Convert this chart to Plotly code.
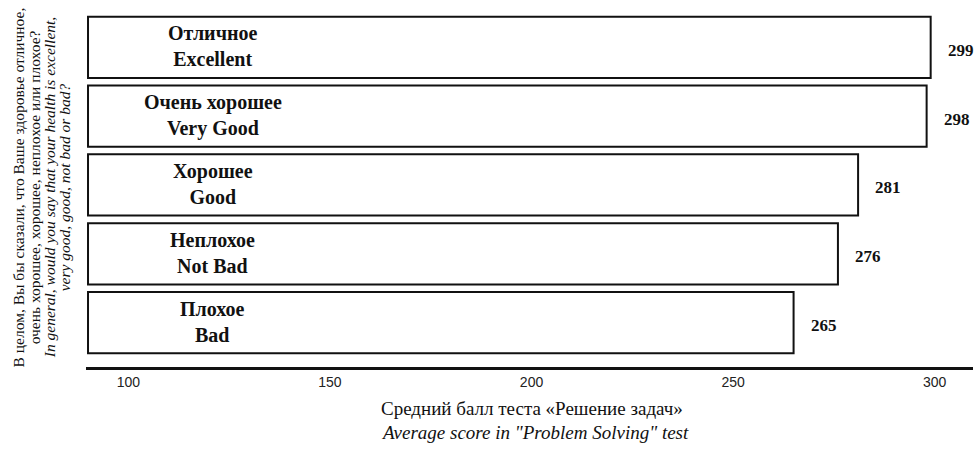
import plotly.graph_objects as go

# Data (top-to-bottom order as shown)
categories_ru = ["Отличное", "Очень хорошее", "Хорошее", "Неплохое", "Плохое"]
categories_en = ["Excellent", "Very Good", "Good", "Not Bad", "Bad"]
scores = [299, 298, 281, 276, 265]
tick_values = [100, 150, 200, 250, 300]
tick_labels = ["100", "150", "200", "250", "300"]

x_title_ru = "Средний балл теста «Решение задач»"
x_title_en = 'Average score in "Problem Solving" test'
y_title_lines = [
    ("В целом, Вы бы сказали, что Ваше здоровье отличное,", False),
    ("очень хорошее, хорошее, неплохое или плохое?", False),
    ("In general, would you say that your health is excellent,", True),
    ("very good, good, not bad or bad?", True),
]

# Styling / axis constants
X_MIN, X_MAX = 89.5, 309.5
BAR_BASE = 90
SERIF = "Liberation Serif"
INK = "#111111"

cats = [f"{r} / {e}" for r, e in zip(categories_ru, categories_en)]

fig = go.Figure()
fig.add_trace(go.Bar(
    y=cats,
    x=[s - BAR_BASE for s in scores],
    base=BAR_BASE,
    orientation="h",
    marker=dict(color="white", line=dict(color=INK, width=2)),
    hoverinfo="skip",
    showlegend=False,
))

annotations = []
# category labels inside bars
for c, r, e in zip(cats, categories_ru, categories_en):
    annotations.append(dict(
        xref="paper", yref="y", x=0.143, y=c,
        text=f"<b>{r}<br>{e}</b>", showarrow=False,
        font=dict(family=SERIF, size=20, color=INK),
        xanchor="center", yanchor="middle", yshift=1,
    ))
# value labels
for c, s in zip(cats, scores):
    annotations.append(dict(
        xref="x", yref="y", x=s, y=c,
        text=f"<b>{s}</b>", showarrow=False,
        font=dict(family=SERIF, size=17, color=INK),
        xanchor="left", yanchor="middle", xshift=15, yshift=-3,
    ))
# y-axis title (rotated), one annotation per line
y_title_x = [-0.0764, -0.0584, -0.0416, -0.0247]
for (txt, ital), xp in zip(y_title_lines, y_title_x):
    annotations.append(dict(
        xref="paper", yref="paper", x=xp, y=0.508,
        text=f"<i>{txt}</i>" if ital else txt,
        showarrow=False, textangle=-90,
        font=dict(family=SERIF, size=15.5, color=INK),
        xanchor="center", yanchor="middle",
    ))
# x-axis title
annotations.append(dict(
    xref="paper", yref="paper", x=0.503, y=-0.118,
    text=x_title_ru, showarrow=False,
    font=dict(family=SERIF, size=19, color=INK),
    xanchor="center", yanchor="middle",
))
annotations.append(dict(
    xref="paper", yref="paper", x=0.506, y=-0.186,
    text=f"<i>{x_title_en}</i>", showarrow=False,
    font=dict(family=SERIF, size=19, color=INK),
    xanchor="center", yanchor="middle",
))

fig.update_layout(
    width=977, height=450,
    margin=dict(l=86, r=4, t=13, b=83),
    paper_bgcolor="white", plot_bgcolor="white",
    bargap=0.11,
    annotations=annotations,
    xaxis=dict(
        range=[X_MIN, X_MAX],
        tickvals=tick_values, ticktext=tick_labels,
        showgrid=False, zeroline=False,
        showline=True, linecolor=INK, linewidth=3,
        ticks="", tickfont=dict(family="Liberation Sans", size=14, color="#222222"),
    ),
    yaxis=dict(
        type="category", categoryorder="array", categoryarray=cats,
        range=[4.646, -0.5],
        showticklabels=False, showgrid=False, zeroline=False, showline=False,
        ticks="",
    ),
)

fig.write_html(
    "out.html",
    config={"displayModeBar": False, "staticPlot": True},
    post_script="document.body.style.margin='0';document.body.style.overflow='hidden';"
                "document.documentElement.style.overflow='hidden';",
)
